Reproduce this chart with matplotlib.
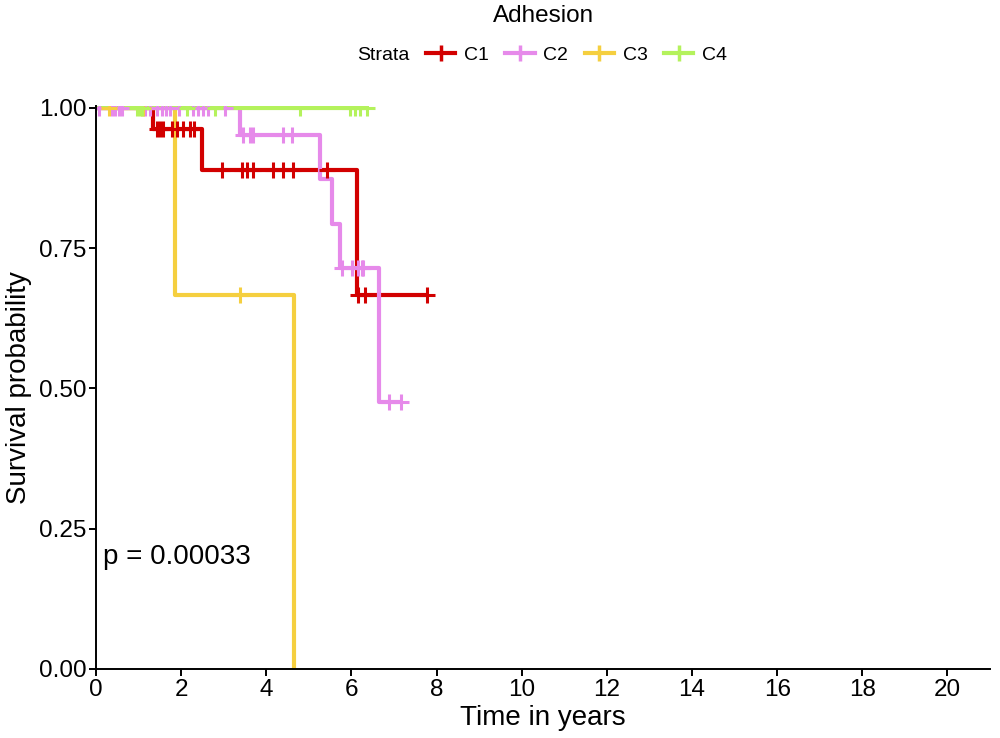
import matplotlib
matplotlib.use("Agg")
import matplotlib.pyplot as plt
from matplotlib.lines import Line2D
import numpy as np

plt.rcParams["font.family"] = ["Liberation Sans", "DejaVu Sans"]

# 各组的事件时间 / 生存率 / 删失时间
strata = ["C1", "C2", "C3", "C4"]
colors = ["#D20000", "#E68AEA", "#F5CF3F", "#B4F25C"]

c1_event_t = [1.34, 2.49, 6.13]
c1_surv = [0.963, 0.889, 0.667]
c1_censor = [1.43, 1.50, 1.57, 1.78, 1.90, 2.04, 2.21, 2.30,
             2.96, 3.43, 3.54, 3.68, 4.15, 4.39, 4.62, 5.42,
             6.15, 6.31, 7.77]

c2_event_t = [3.38, 5.26, 5.54, 5.73, 6.64]
c2_surv = [0.952, 0.873, 0.794, 0.714, 0.476]
c2_censor = [0.07, 0.38, 0.45, 0.54, 0.61, 1.15, 1.27, 1.43, 1.55, 1.64,
             1.74, 1.95, 2.28, 2.39, 2.51, 2.63, 3.03,
             3.45, 3.62, 3.69, 4.39, 4.60,
             5.77, 6.01, 6.15, 6.24, 6.27, 6.88, 7.17]

c3_event_t = [1.85, 4.65]
c3_surv = [0.667, 0.0]
c3_censor = [0.31, 1.10, 3.38]

c4_event_t = []
c4_surv = []
c4_censor = [0.96, 1.03, 1.08, 2.14, 2.79, 4.79, 5.96, 6.08, 6.20, 6.36]

groups = [
    (c1_event_t, c1_surv, c1_censor),
    (c2_event_t, c2_surv, c2_censor),
    (c3_event_t, c3_surv, c3_censor),
    (c4_event_t, c4_surv, c4_censor),
]

p_text = "p = 0.00033"


def surv_at(t, event_t, surv):
    s = 1.0
    for et, sv in zip(event_t, surv):
        if t >= et:
            s = sv
    return s


fig = plt.figure(figsize=(10, 7.38), dpi=100)
ax = fig.add_axes([0.096, 0.0935, 0.894, 0.763])

lw = 3.0
for (et, sv, cens), col in zip(groups, colors):
    t_end = max(list(et) + list(cens))
    xs = [0.0] + list(et) + [t_end]
    ys = [1.0] + list(sv) + [sv[-1] if sv else 1.0]
    ax.step(xs, ys, where="post", color=col, lw=lw, solid_capstyle="butt")

for (et, sv, cens), col in zip(groups, colors):
    cy = [surv_at(t, et, sv) for t in cens]
    ax.plot(cens, cy, ls="none", marker="+", markersize=12, mew=2.2, color=col)

ax.text(0.16, 0.2, p_text, fontsize=20, ha="left", va="center")

ax.set_xlim(0, 21)
ax.set_ylim(0, 1.0036)
ax.set_xticks(np.arange(0, 21, 2))
ax.set_yticks([0, 0.25, 0.5, 0.75, 1.0])
ax.set_yticklabels(["0.00", "0.25", "0.50", "0.75", "1.00"])
ax.tick_params(labelsize=17.5, length=5, width=1.4, color="black", pad=2)
for side in ["top", "right"]:
    ax.spines[side].set_visible(False)
for side in ["left", "bottom"]:
    ax.spines[side].set_linewidth(1.4)
ax.set_xlabel("Time in years", fontsize=20, labelpad=3)
ax.set_ylabel("Survival probability", fontsize=20, labelpad=5)

# 顶部图例
fig.text(0.544, 0.978, "Adhesion", fontsize=17.5, ha="center", va="center")
fig.text(0.41, 0.925, "Strata", fontsize=14, ha="right", va="center")
handles = [Line2D([], [], color=c, lw=lw, marker="|", markersize=12, mew=2.5)
           for c in colors]
fig.legend(handles, strata, loc="center", bbox_to_anchor=(0.5765, 0.925),
           ncol=4, frameon=False, fontsize=14, handlelength=1.5,
           handletextpad=0.45, columnspacing=0.85, borderpad=0, borderaxespad=0)

fig.savefig("out.png", dpi=100)
